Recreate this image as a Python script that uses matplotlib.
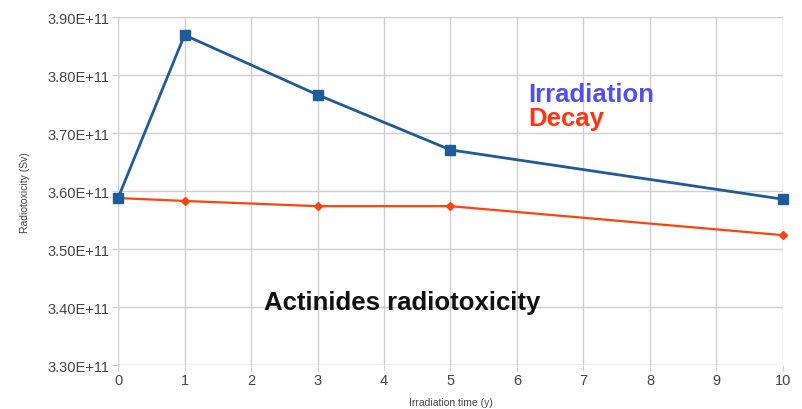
import matplotlib.pyplot as plt
from matplotlib.ticker import FuncFormatter

plt.rcParams['font.family'] = ['Liberation Sans', 'DejaVu Sans']

years = [0, 1, 3, 5, 10]
irradiation = [3.588e11, 3.869e11, 3.766e11, 3.671e11, 3.586e11]
decay = [3.588e11, 3.583e11, 3.574e11, 3.574e11, 3.524e11]

fig = plt.figure(figsize=(8.03, 4.10), dpi=100)
ax = fig.add_axes([0.147, 0.107, 0.828, 0.849])

ax.plot(years, decay, color='#ff420e', lw=1.6, marker='D', ms=4.5, zorder=3, clip_on=False)
ax.plot(years, irradiation, color='#1f5a99', lw=2.0, marker='s', ms=7.5, zorder=4, clip_on=False)

ax.set_xlim(0, 10)
ax.set_ylim(3.3e11, 3.9e11)
ax.set_xticks(range(0, 11))
ax.set_yticks([3.3e11 + i * 0.1e11 for i in range(7)])
ax.yaxis.set_major_formatter(FuncFormatter(lambda v, p: f"{v / 1e11:.2f}E+11"))

ax.grid(True, color='#cfcfcf', lw=1.0)
ax.set_axisbelow(True)
for s in ax.spines.values():
    s.set_visible(False)
ax.tick_params(length=4, color='#cfcfcf', labelsize=10.5, labelcolor='#444444', pad=2)

ax.set_ylabel('Radiotoxicity (Sv)', fontsize=7.5, color='#444444', labelpad=13)
ax.set_xlabel('Irradiation time (y)', fontsize=7.5, color='#444444', labelpad=7)

ax.text(6.17, 3.768e11, 'Irradiation', color='#5050f0', fontsize=18.5, fontweight='bold', va='center')
ax.text(6.17, 3.726e11, 'Decay', color='#ff3311', fontsize=18.5, fontweight='bold', va='center')
ax.text(2.19, 3.409e11, 'Actinides radiotoxicity', color='#111111', fontsize=18.5, fontweight='bold', va='center')

fig.savefig('out.png', dpi=100)
